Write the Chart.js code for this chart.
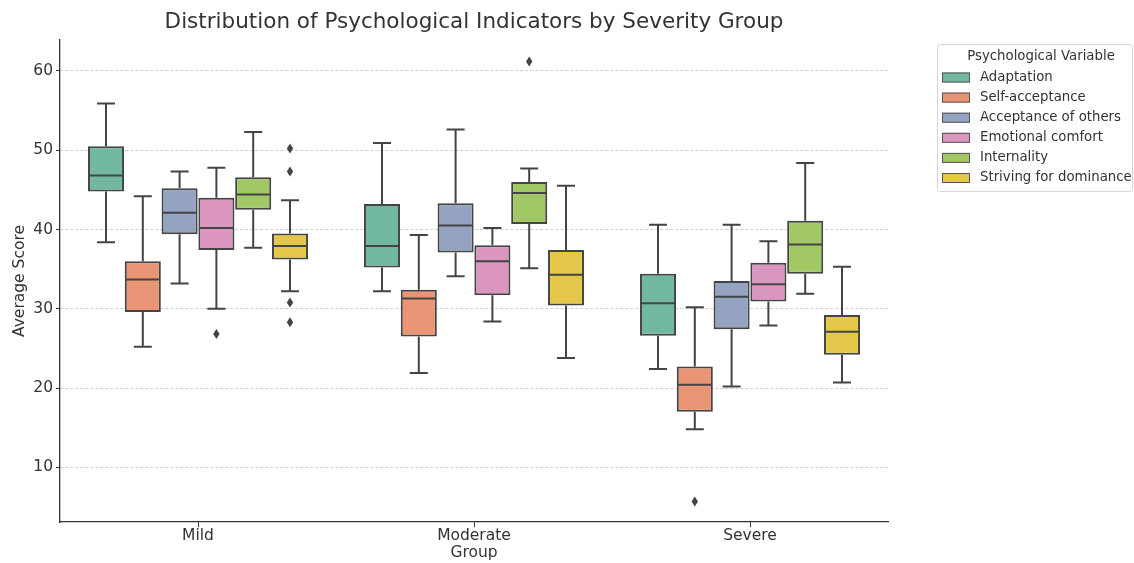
<!DOCTYPE html>
<html>
<head>
<meta charset="utf-8">
<script src="https://cdn.jsdelivr.net/npm/chart.js@4.4.1/dist/chart.umd.min.js"></script>
<style>
  html, body { margin: 0; padding: 0; background: #ffffff; }
  #wrap { width: 1134px; height: 563px; position: relative; }
</style>
</head>
<body>
<div id="wrap"><canvas id="chart" width="1134" height="563"></canvas></div>
<script>
// Severity groups and the psychological variables compared inside each
const groups = ['Mild', 'Moderate', 'Severe'];
const variables = ['Adaptation', 'Self-acceptance', 'Acceptance of others', 'Emotional comfort', 'Internality', 'Striving for dominance'];
const yTicks = [10, 20, 30, 40, 50, 60];

// Box statistics, one row per variable, one entry per group (Mild, Moderate, Severe)
const whiskerLow = [
  [38.4, 32.2, 22.4],
  [25.2, 21.9, 14.8],
  [33.2, 34.1, 20.2],
  [30.0, 28.4, 27.9],
  [37.7, 35.1, 31.9],
  [32.2, 23.8, 20.7]
];
const q1 = [
  [44.8, 35.2, 26.6],
  [29.6, 26.5, 17.0],
  [39.4, 37.1, 27.4],
  [37.4, 31.7, 30.9],
  [42.5, 40.7, 34.4],
  [36.2, 30.4, 24.2]
];
const median = [
  [46.8, 37.9, 30.7],
  [33.7, 31.3, 20.4],
  [42.1, 40.5, 31.5],
  [40.2, 36.0, 33.1],
  [44.4, 44.6, 38.1],
  [37.9, 34.3, 27.1]
];
const q3 = [
  [50.5, 43.2, 34.4],
  [36.0, 32.4, 22.7],
  [45.2, 43.3, 33.5],
  [44.0, 38.0, 35.8],
  [46.6, 46.0, 41.1],
  [39.5, 37.4, 29.2]
];
const whiskerHigh = [
  [55.9, 50.9, 40.6],
  [44.2, 39.3, 30.2],
  [47.3, 52.6, 40.6],
  [47.8, 40.2, 38.5],
  [52.3, 47.7, 48.4],
  [43.7, 45.5, 35.3]
];
const outliers = [
  [[], [], []],
  [[], [], [5.7]],
  [[], [], []],
  [[26.8], [], []],
  [[], [61.2], []],
  [[50.2, 47.3, 30.8, 28.3], [], []]
];

const fills = ['#72b7a1', '#e99575', '#95a3c3', '#db96c0', '#a2c765', '#e5c849'];
const lineColor = '#444444';
const fontFamily = '"DejaVu Sans", sans-serif';

// Whiskers + caps go under the boxes, medians and fliers on top
const boxDetails = {
  id: 'boxDetails',
  beforeDatasetsDraw(chart) {
    const ctx = chart.ctx;
    const y = chart.scales.y;
    ctx.save();
    ctx.strokeStyle = lineColor;
    ctx.lineWidth = 2;
    variables.forEach((_, i) => {
      chart.getDatasetMeta(i).data.forEach((bar, j) => {
        const cx = bar.x;
        const half = bar.width / 4;
        const yLo = y.getPixelForValue(whiskerLow[i][j]);
        const yQ1 = y.getPixelForValue(q1[i][j]);
        const yQ3 = y.getPixelForValue(q3[i][j]);
        const yHi = y.getPixelForValue(whiskerHigh[i][j]);
        ctx.beginPath();
        ctx.moveTo(cx, yQ3); ctx.lineTo(cx, yHi);
        ctx.moveTo(cx - half, yHi); ctx.lineTo(cx + half, yHi);
        ctx.moveTo(cx, yQ1); ctx.lineTo(cx, yLo);
        ctx.moveTo(cx - half, yLo); ctx.lineTo(cx + half, yLo);
        ctx.stroke();
      });
    });
    ctx.restore();
  },
  afterDatasetsDraw(chart) {
    const ctx = chart.ctx;
    const y = chart.scales.y;
    ctx.save();
    ctx.strokeStyle = lineColor;
    ctx.fillStyle = lineColor;
    ctx.lineWidth = 2;
    variables.forEach((_, i) => {
      chart.getDatasetMeta(i).data.forEach((bar, j) => {
        const cx = bar.x;
        const w = bar.width;
        const ym = y.getPixelForValue(median[i][j]);
        ctx.beginPath();
        ctx.moveTo(cx - w / 2 + 1, ym); ctx.lineTo(cx + w / 2 - 1, ym);
        ctx.stroke();
        outliers[i][j].forEach(v => {
          const py = y.getPixelForValue(v);
          ctx.beginPath();
          ctx.moveTo(cx, py - 5);
          ctx.lineTo(cx + 3.2, py);
          ctx.lineTo(cx, py + 5);
          ctx.lineTo(cx - 3.2, py);
          ctx.closePath();
          ctx.fill();
        });
      });
    });
    ctx.restore();
  },
  afterDraw(chart) {
    // Legend box placed to the right of the plot
    const ctx = chart.ctx;
    const left = 937, top = 44, right = 1133, bottom = 191;
    ctx.save();
    ctx.fillStyle = '#ffffff';
    ctx.strokeStyle = '#d6d6d6';
    ctx.lineWidth = 1;
    ctx.beginPath();
    ctx.roundRect(left + 0.5, top + 0.5, right - left - 1, bottom - top, 3);
    ctx.fill();
    ctx.stroke();
    ctx.font = '13.3px ' + fontFamily;
    ctx.fillStyle = '#333333';
    ctx.textBaseline = 'middle';
    ctx.textAlign = 'center';
    ctx.fillText('Psychological Variable', 1041, 57);
    ctx.textAlign = 'left';
    variables.forEach((name, i) => {
      const ry = 77.5 + i * 20.1;
      ctx.fillStyle = fills[i];
      ctx.fillRect(942, ry - 5, 28, 10);
      ctx.strokeStyle = '#555555';
      ctx.lineWidth = 1;
      ctx.strokeRect(942.5, ry - 4.5, 27, 9);
      ctx.fillStyle = '#333333';
      ctx.fillText(name, 980, ry);
    });
    ctx.restore();
  }
};

const datasets = variables.map((name, i) => ({
  label: name,
  data: groups.map((_, j) => [q1[i][j], q3[i][j]]),
  backgroundColor: fills[i],
  borderColor: lineColor,
  borderWidth: 2,
  borderSkipped: false,
  categoryPercentage: 0.8,
  barPercentage: 0.98
}));

new Chart(document.getElementById('chart'), {
  type: 'bar',
  data: { labels: groups, datasets },
  plugins: [boxDetails],
  options: {
    responsive: false,
    animation: false,
    devicePixelRatio: 1,
    layout: { padding: { left: 0, right: 246, top: 0, bottom: 0 } },
    plugins: {
      legend: { display: false },
      tooltip: { enabled: false },
      title: {
        display: true,
        text: 'Distribution of Psychological Indicators by Severity Group',
        fullSize: false,
        color: '#333333',
        font: { family: fontFamily, size: 21.5, weight: 'normal' },
        padding: { top: 10, bottom: 4.2 }
      }
    },
    scales: {
      x: {
        offset: true,
        grid: {
          offset: false,
          drawOnChartArea: false,
          drawTicks: true,
          tickLength: 5,
          tickColor: '#333333',
          tickWidth: 1
        },
        border: { display: true, color: '#333333', width: 1.3 },
        ticks: { color: '#333333', padding: 0, font: { family: fontFamily, size: 15.5 } },
        title: {
          display: true,
          text: 'Group',
          color: '#333333',
          font: { family: fontFamily, size: 15.5 },
          padding: { top: 0, bottom: 1 }
        },
        afterFit(scale) { scale.height = 41; }
      },
      y: {
        min: 3.1,
        max: 63.9,
        afterBuildTicks(scale) { scale.ticks = yTicks.map(v => ({ value: v })); },
        grid: {
          color: '#cfcfcf',
          lineWidth: 1,
          drawTicks: true,
          tickLength: 4,
          tickColor: '#333333',
          tickBorderDash: [],
          tickWidth: 1
        },
        border: { display: true, color: '#333333', width: 1.3, dash: [3, 2] },
        ticks: { color: '#333333', padding: 3, font: { family: fontFamily, size: 15.5 } },
        title: {
          display: true,
          text: 'Average Score',
          color: '#333333',
          font: { family: fontFamily, size: 15.5 },
          padding: { top: 11, bottom: 0 }
        },
        afterFit(scale) { scale.width = 60; }
      }
    }
  }
});
</script>
</body>
</html>
